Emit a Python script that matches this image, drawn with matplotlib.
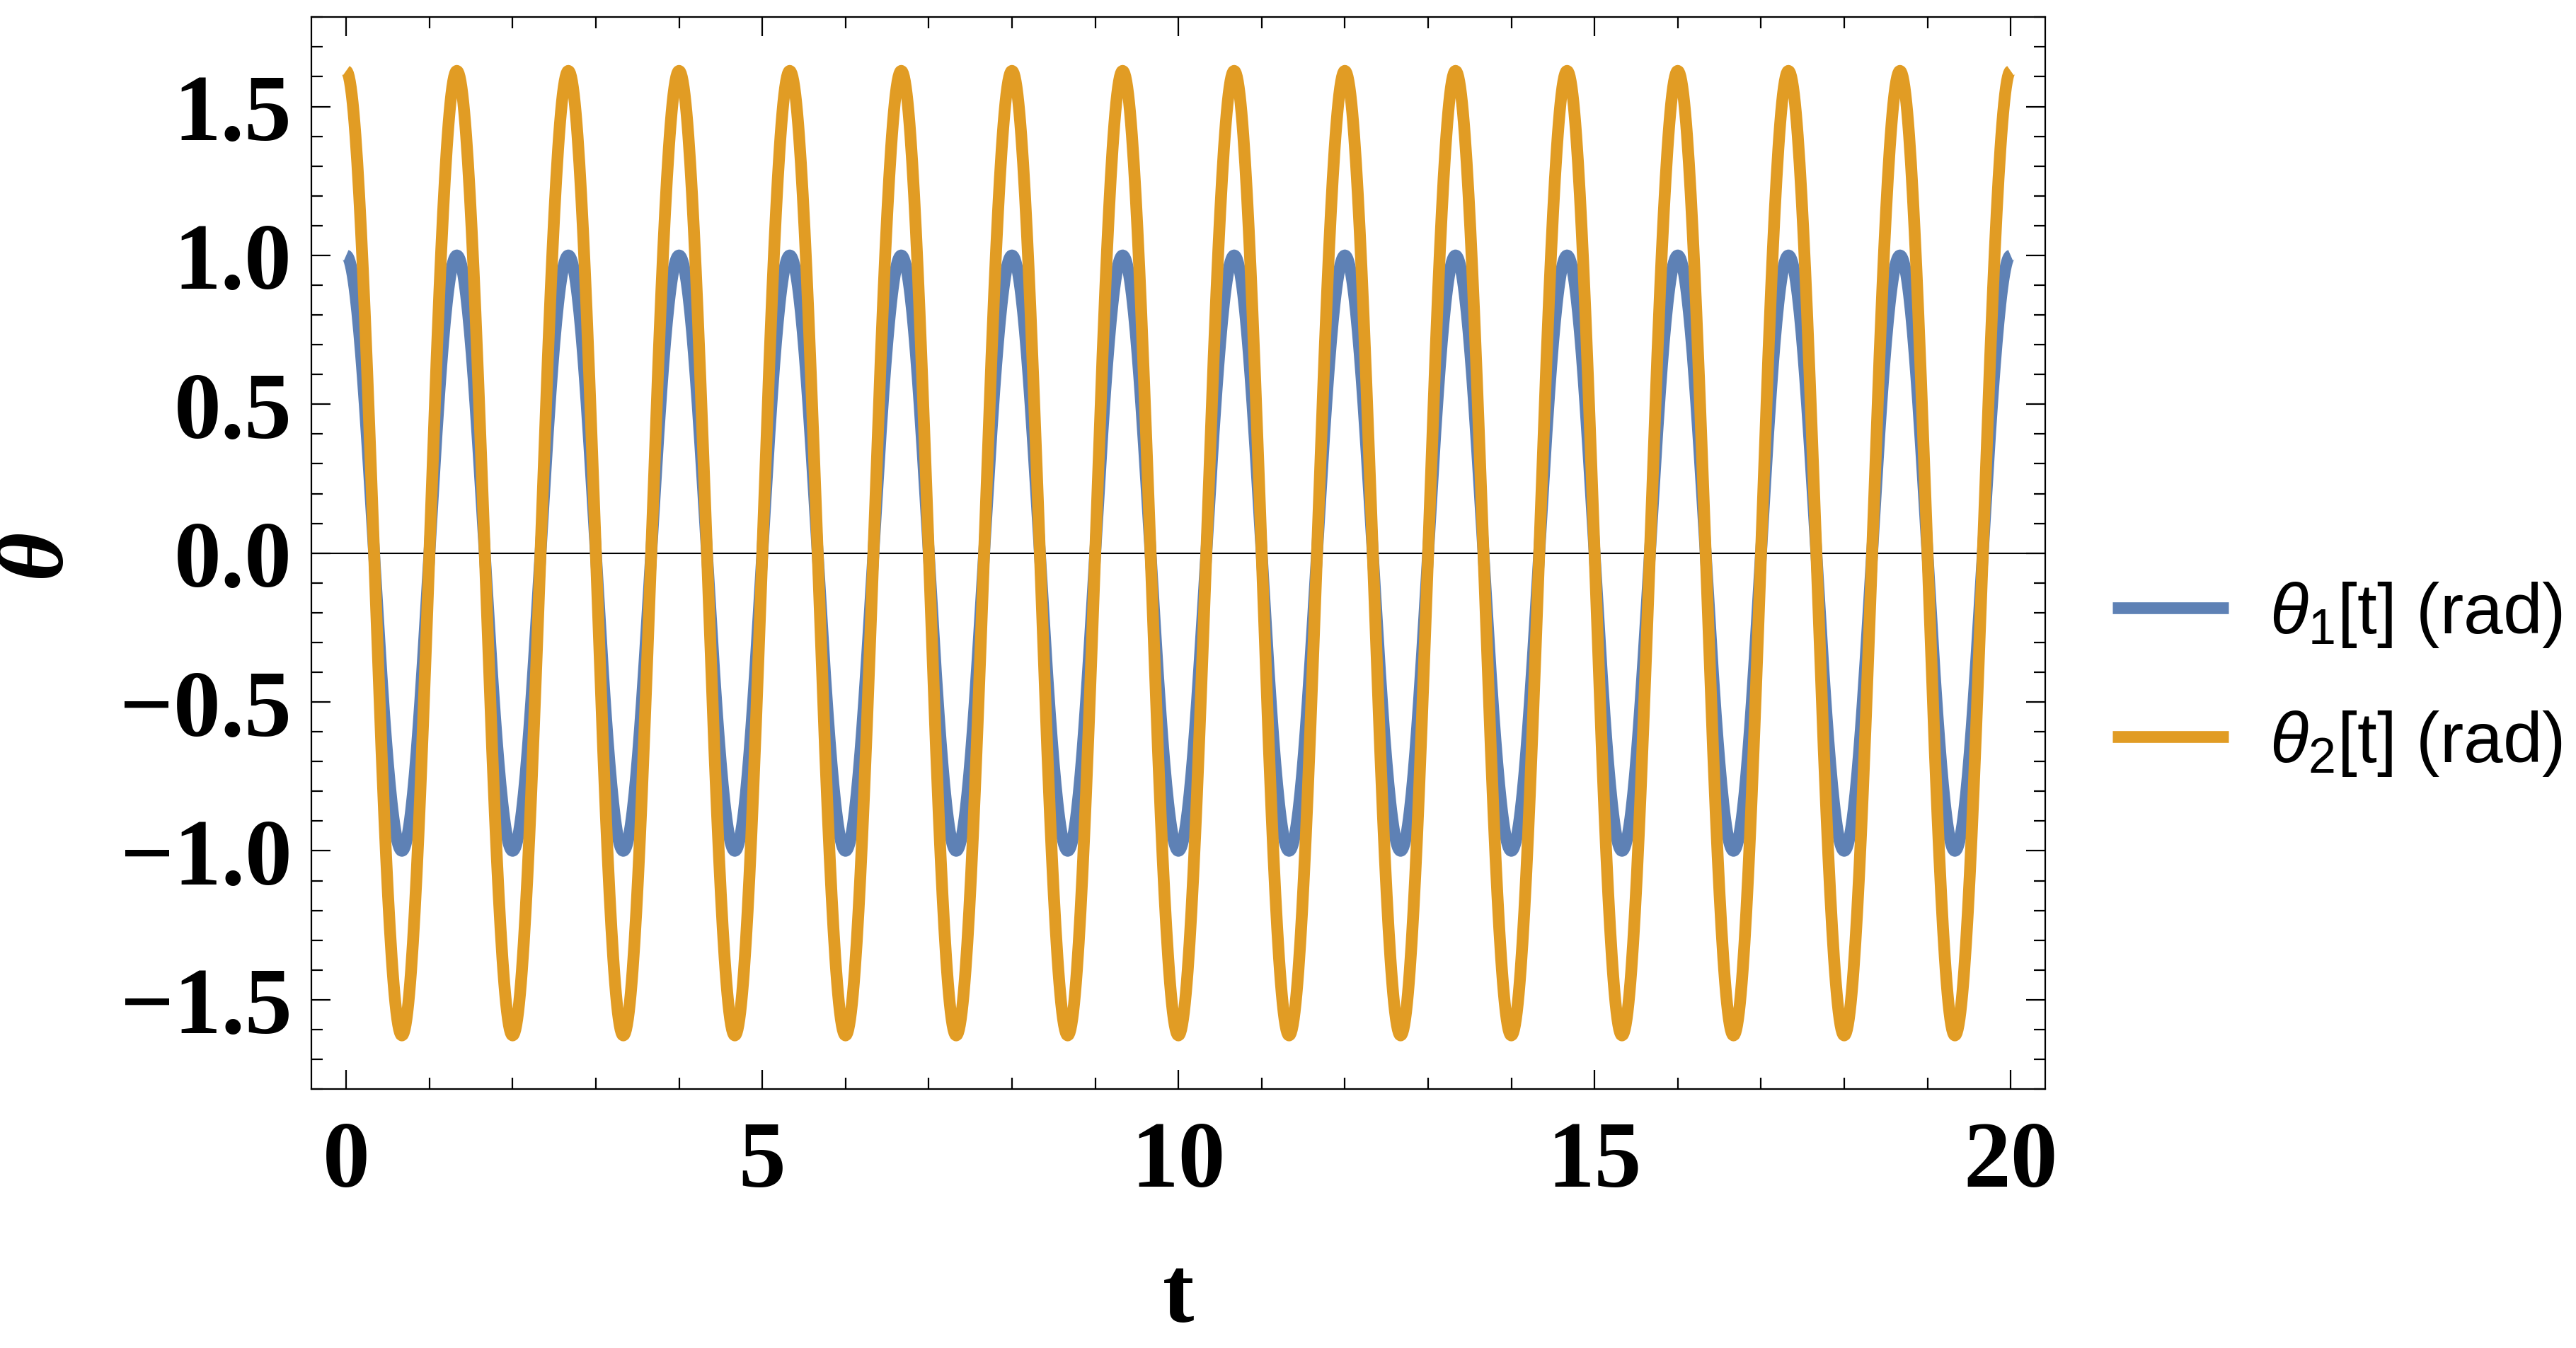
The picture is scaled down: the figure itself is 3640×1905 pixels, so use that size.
import numpy as np
import matplotlib
matplotlib.use("Agg")
import matplotlib.pyplot as plt
from matplotlib.ticker import MultipleLocator, FixedLocator

# extrema of each curve (time, value)
t_ext = [0.0, 0.67, 1.33, 2.0, 2.67, 3.33, 4.0, 4.67, 5.33, 6.0, 6.67, 7.33,
         8.0, 8.67, 9.33, 10.0, 10.67, 11.33, 12.0, 12.67, 13.33, 14.0, 14.67,
         15.33, 16.0, 16.67, 17.33, 18.0, 18.67, 19.33, 20.0]
theta1_ext = [1.0, -1.0] * 15 + [1.0]
theta2_ext = [1.62, -1.62] * 15 + [1.62]

labels = [r"$\theta_1$[t] (rad)", r"$\theta_2$[t] (rad)"]
colors = ["#5E81B5", "#E19C24"]
yticks = [-1.5, -1.0, -0.5, 0.0, 0.5, 1.0, 1.5]
xticks = [0, 5, 10, 15, 20]


def smooth(t_pts, y_pts, n=60):
    # half-cosine ease between successive extrema
    ts, ys = [], []
    for i in range(len(t_pts) - 1):
        s = np.linspace(0, 1, n, endpoint=False)
        ts.append(t_pts[i] + (t_pts[i + 1] - t_pts[i]) * s)
        ys.append(y_pts[i] + (y_pts[i + 1] - y_pts[i]) * (1 - np.cos(np.pi * s)) / 2)
    ts.append([t_pts[-1]])
    ys.append([y_pts[-1]])
    return np.concatenate(ts), np.concatenate(ys)


plt.rcParams['mathtext.fontset'] = 'custom'
plt.rcParams['mathtext.rm'] = 'Liberation Sans'
plt.rcParams['mathtext.it'] = 'Liberation Sans:italic'

fig = plt.figure(figsize=(18.2, 9.53), dpi=200)
ax = fig.add_axes([0.1209, 0.192, 0.794 - 0.1209, 0.9867 - 0.192])

ax.axhline(0, color='black', linewidth=0.75, zorder=1)
for ext, lab, c in zip([theta1_ext, theta2_ext], labels, colors):
    t, y = smooth(t_ext, ext)
    ax.plot(t, y, color=c, linewidth=6.0, label=lab, zorder=2,
            solid_capstyle='butt')

ax.set_xlim(-0.417, 20.417)
ax.set_ylim(-1.80, 1.80)

ax.xaxis.set_major_locator(FixedLocator(xticks))
ax.xaxis.set_minor_locator(MultipleLocator(1))
ax.yaxis.set_major_locator(FixedLocator(yticks))
ax.yaxis.set_minor_locator(MultipleLocator(0.1))
ax.set_xticklabels([str(v) for v in xticks])
ax.set_yticklabels([f"{v:.1f}".replace("-", "\u2212") for v in yticks])

ax.tick_params(which='both', direction='in', top=True, right=True, width=0.8)
ax.tick_params(which='major', length=9.7)
ax.tick_params(which='minor', length=5.8)
ax.tick_params(axis='y', which='major', pad=10)
ax.tick_params(axis='x', which='major', pad=16)
for lab in ax.get_xticklabels() + ax.get_yticklabels():
    lab.set_fontfamily('Liberation Serif')
    lab.set_fontweight('bold')
    lab.set_fontsize(48)
for sp in ax.spines.values():
    sp.set_linewidth(0.8)

ax.set_xlabel('t', fontfamily='Liberation Serif', fontweight='bold', fontsize=48, labelpad=25)
fig.text(51 / 3640, 1 - 781 / 1906, '\u03b8', fontsize=48, rotation=90,
         ha='center', va='center', fontfamily='Liberation Serif',
         fontweight='bold', fontstyle='italic')

leg = ax.legend(loc='center left', frameon=False,
                prop={'family': 'Liberation Sans', 'size': 36},
                handlelength=1.64, handletextpad=0.58,
                labelspacing=0.84, borderaxespad=0, borderpad=0)
leg.set_bbox_to_anchor((2985 / 3640, 1 - 960 / 1906), transform=fig.transFigure)

fig.savefig('out.png', dpi=200)
